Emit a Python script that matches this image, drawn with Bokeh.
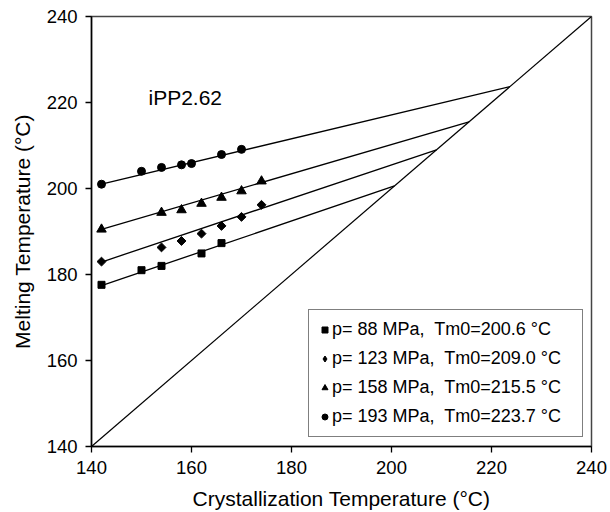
import math
from bokeh.plotting import figure
from bokeh.models import Range1d, FixedTicker, Legend, LegendItem, Label
from bokeh.embed import file_html
from bokeh.resources import INLINE

# ---- data ----
sq_x = [142, 150, 154, 162, 166]
sq_y = [177.6, 181.0, 182.0, 184.9, 187.3]
di_x = [142, 154, 158, 162, 166, 170, 174]
di_y = [183.0, 186.3, 187.8, 189.5, 191.3, 193.4, 196.2]
tr_x = [142, 154, 158, 162, 166, 170, 174]
tr_y = [190.5, 194.4, 195.0, 196.5, 197.9, 199.4, 201.7]
ci_x = [142, 150, 154, 158, 160, 166, 170]
ci_y = [201.0, 204.0, 204.9, 205.5, 205.8, 207.9, 209.1]

pressures = [88, 123, 158, 193]
tm0 = [200.6, 209.0, 215.5, 223.7]
fit_x_start = 142
fit_y_start = [177.4, 182.9, 190.5, 201.0]
diag = [140, 240]
ticks = [140, 160, 180, 200, 220, 240]
sample_name = "iPP2.62"
sample_pos = (151.4, 221.2)

FONT = "Liberation Sans"

p = figure(width=610, height=512, output_backend="svg", toolbar_location=None,
           x_range=Range1d(140, 240), y_range=Range1d(140, 240),
           min_border_left=91, min_border_right=19, min_border_top=16, min_border_bottom=66)
p.grid.visible = False
p.outline_line_color = "#444444"
p.outline_line_width = 1.5
p.background_fill_color = "white"
p.border_fill_color = "white"

for ax in (p.xaxis[0], p.yaxis[0]):
    ax.ticker = FixedTicker(ticks=ticks)
    ax.minor_tick_line_color = None
    ax.major_tick_in = 0
    ax.major_tick_out = 6
    ax.major_tick_line_width = 1.3
    ax.axis_line_width = 1.5
    ax.axis_line_color = "black"
    ax.major_tick_line_color = "black"
    ax.major_label_text_font = FONT
    ax.major_label_text_font_size = "18.5px"
    ax.major_label_text_color = "black"
    ax.axis_label_text_font = FONT
    ax.axis_label_text_font_size = "21px"
    ax.axis_label_text_font_style = "normal"
    ax.axis_label_text_color = "black"

p.xaxis.major_label_standoff = 8
p.yaxis.major_label_standoff = 8
p.xaxis.axis_label = "Crystallization Temperature (°C)"
p.yaxis.axis_label = "Melting Temperature (°C)"
p.xaxis.axis_label_standoff = 10
p.yaxis.axis_label_standoff = 10

# diagonal Tm = Tc
p.line(diag, diag, line_color="black", line_width=1.2)

# fit lines, from first point to intersection with diagonal
for y0, t in zip(fit_y_start, tm0):
    p.line([fit_x_start, t], [y0, t], line_color="black", line_width=1.3)

r_sq = p.scatter(sq_x, sq_y, marker="square", size=7, color="black")
r_di = p.scatter(di_x, di_y, marker="square", angle=math.pi / 4, size=6.3, color="black")
r_tr = p.scatter(tr_x, tr_y, marker="triangle", size=9.5, color="black")
r_ci = p.scatter(ci_x, ci_y, marker="circle", size=8, color="black")
# legend-only swatch for the diamonds (legend swatches ignore marker angle); NaN => nothing drawn on the plot
r_di_key = p.scatter(x=[math.nan], y=[math.nan], marker="diamond", size=9, color="black")

labels = [f"p= {pr} MPa,  Tm0={t:.1f} °C" for pr, t in zip(pressures, tm0)]
items = [LegendItem(label=lab, renderers=[r])
         for lab, r in zip(labels, [r_sq, r_di_key, r_tr, r_ci])]
legend = Legend(items=items, location=(217, 9),
                label_text_font=FONT, label_text_font_size="18px",
                label_text_color="black",
                glyph_width=15, glyph_height=23, label_height=23,
                label_standoff=0, spacing=6, padding=8, label_width=242,
                border_line_color="black", border_line_width=1.3,
                background_fill_color="white", background_fill_alpha=1.0,
                margin=0)
p.add_layout(legend, "center")

p.add_layout(Label(x=sample_pos[0], y=sample_pos[1], text=sample_name,
                   text_font=FONT, text_font_size="21px", text_color="black",
                   text_baseline="middle", text_align="left"))

open("out.html", "w").write(file_html(p, INLINE))
